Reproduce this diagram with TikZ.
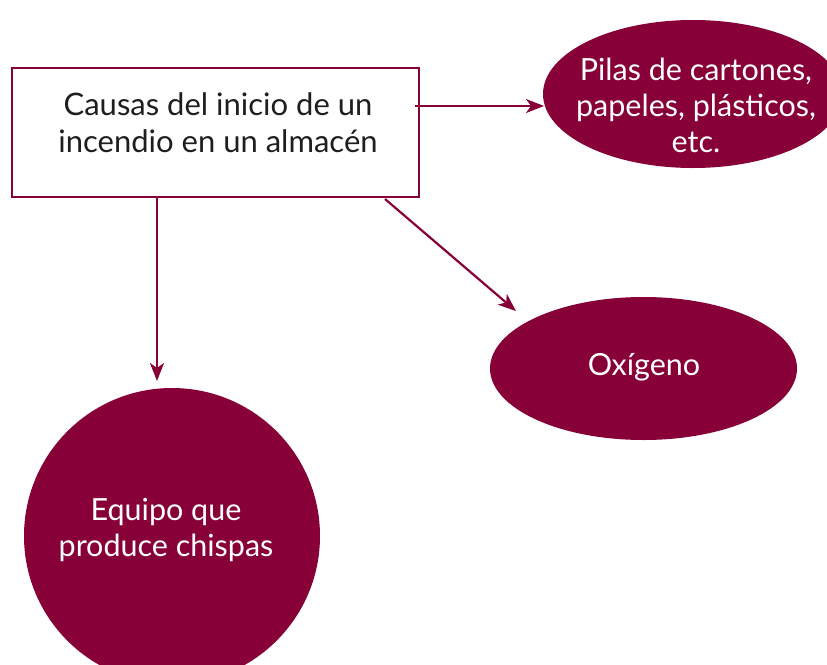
\documentclass[tikz,border=0pt]{standalone}
\usepackage{fontspec}
\setmainfont{Lato}
\usetikzlibrary{shapes.geometric,arrows.meta}
\definecolor{wine}{HTML}{870038}
\definecolor{ink}{HTML}{1E1E1E}
\tikzset{
  bubble/.style={ellipse, fill=wine, inner sep=0pt},
  bubtext/.style={text=white, align=center, font=\fontsize{30.5}{36}\selectfont},
  boxnode/.style={draw=wine, line width=2.2pt, inner sep=0pt},
  boxtext/.style={text=ink, align=center, font=\fontsize{31}{37}\selectfont},
  conn/.style={draw=wine, line width=2.2pt, -{Stealth[length=18pt,width=14pt,inset=5pt]}}
}
\begin{document}
\begin{tikzpicture}[x=1pt,y=-1pt]
\useasboundingbox (0,0) rectangle (827,664);
% main box
\node[boxnode, minimum width=407pt, minimum height=129pt] (box) at (215.5,132.5) {};
\node[boxtext] (boxt) at (218,123) {Causas del inicio de un\\incendio en un almacén};
% top right ellipse
\node[bubble, minimum width=300pt, minimum height=148pt] (pilas) at (693,94) {};
\node[bubtext] (pilast) at (696,105) {Pilas de cartones,\\papeles, plásticos,\\etc.};
% oxigeno
\node[bubble, minimum width=307pt, minimum height=143pt] (oxi) at (643.5,368.5) {};
\node[bubtext] (oxit) at (644,367) {Oxígeno};
% circle
\node[bubble, minimum width=296pt, minimum height=296pt] (equipo) at (172,536) {};
\node[bubtext] (equipot) at (166,530) {Equipo que\\produce chispas};
% connectors
\coordinate (s1) at (415,106);
\coordinate (e1) at (544,106);
\coordinate (s2) at (157,197);
\coordinate (e2) at (157,381);
\coordinate (s3) at (385,199);
\coordinate (e3) at (516,311);
\draw[conn] (s1) -- (e1);
\draw[conn] (s2) -- (e2);
\draw[conn] (s3) -- (e3);
\end{tikzpicture}
\end{document}
